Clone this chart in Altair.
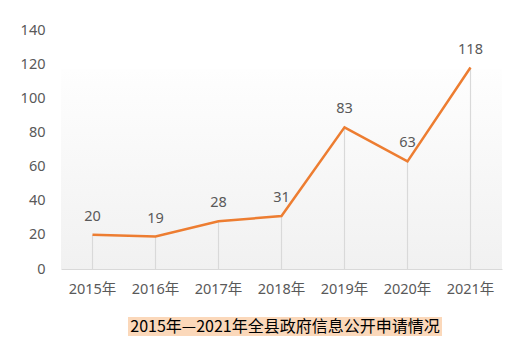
import altair as alt
import pandas as pd

years = ["2015年", "2016年", "2017年", "2018年", "2019年", "2020年", "2021年"]
values = [20, 19, 28, 31, 83, 63, 118]
y_ticks = [0, 20, 40, 60, 80, 100, 120, 140]
title_text = "2015年—2021年全县政府信息公开申请情况"

df = pd.DataFrame({"year": years, "value": values})

W, H = 441, 239
FONT = "Noto Sans, Noto Sans CJK SC"
TFONT = "Noto Sans CJK SC"
GREY = "#595959"

x_enc = alt.X("year:N", sort=years, title=None,
              scale=alt.Scale(paddingInner=0, paddingOuter=0),
              axis=alt.Axis(labelAngle=0, ticks=False, domainColor="#d9d9d9",
                            domainWidth=1.2, labelPadding=13, labelFontSize=14.5,
                            labelColor=GREY, labelFont=FONT, labelOverlap=False))
y_scale = alt.Scale(domain=[0, 140])
y_enc = alt.Y("value:Q", title=None, scale=y_scale,
              axis=alt.Axis(values=y_ticks, grid=False, domain=False, ticks=False,
                            labelPadding=16, labelFontSize=14.5, labelColor=GREY,
                            labelFont=FONT, labelOverlap=False))

one = pd.DataFrame({"k": [0]})
bg = alt.Chart(one).mark_rect(
    color=alt.Gradient(gradient="linear", x1=0, y1=0, x2=0, y2=1,
                       stops=[alt.GradientStop(color="#fefefe", offset=0),
                              alt.GradientStop(color="#f1f1f1", offset=1)])
).encode(x=alt.value(0), x2=alt.value(W), y=alt.value(39), y2=alt.value(H))

drops = alt.Chart(df).mark_rule(color="#d9d9d9", strokeWidth=1.2).encode(
    x=x_enc, y=y_enc, y2=alt.datum(0))

line = alt.Chart(df).mark_line(color="#ED7D31", strokeWidth=2.5).encode(
    x=x_enc, y=y_enc)

labels = alt.Chart(df).mark_text(dy=-18, fontSize=14.5, color=GREY, font=FONT).encode(
    x=x_enc, y=y_enc, text="value:Q")

tdf = pd.DataFrame({"t": [title_text]})
tbox = alt.Chart(tdf).mark_rect(color="#FBD8BA").encode(
    x=alt.value(67), x2=alt.value(381), y=alt.value(287), y2=alt.value(306))
ttext = alt.Chart(tdf).mark_text(fontSize=16, color="#000000", font=TFONT,
                                  align="center", baseline="middle").encode(
    x=alt.value(224), y=alt.value(297), text="t:N")

chart = alt.layer(bg, drops, line, labels, tbox, ttext).properties(
    width=W, height=H,
    padding={"left": 61, "top": 30, "right": 21, "bottom": 88},
    autosize=alt.AutoSizeParams(type="none"),
    background="white",
).configure_view(stroke=None)

chart.save("out.html", embed_options={"renderer": "svg", "actions": False})
